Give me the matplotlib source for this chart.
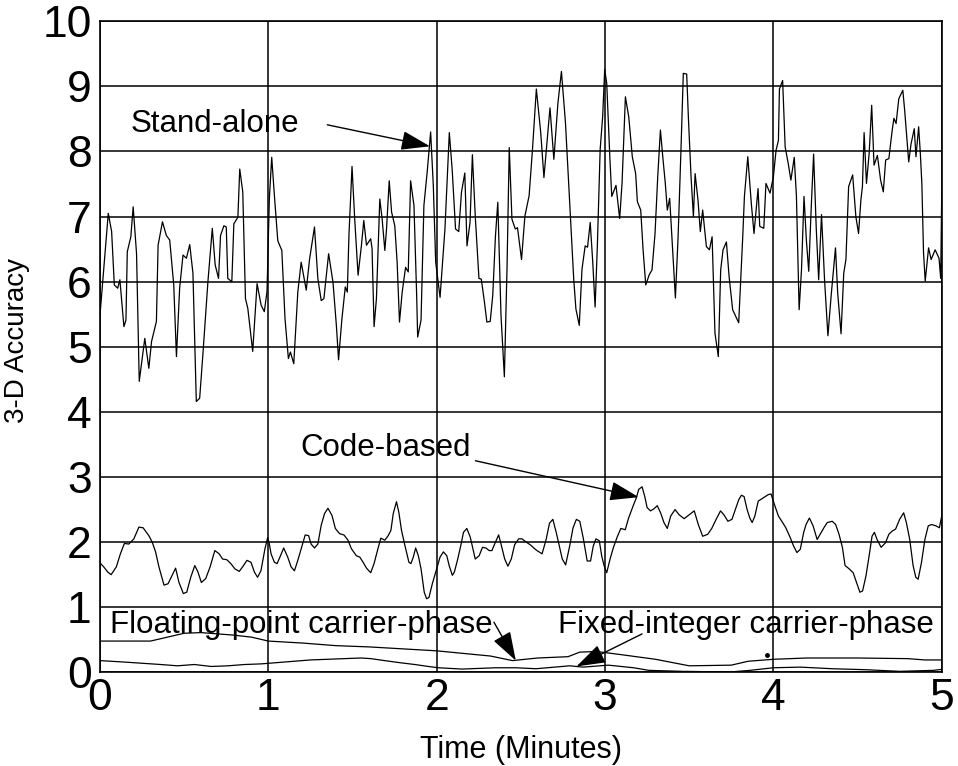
import matplotlib
matplotlib.use("Agg")
import matplotlib.pyplot as plt

plt.rcParams['font.family'] = ['Liberation Sans', 'DejaVu Sans']

# ---------------- data ----------------
stand_t = [0.000, 0.049, 0.069, 0.085, 0.105, 0.118, 0.142, 0.154, 0.162, 0.183, 0.197, 0.217, 0.233, 0.266,
           0.290, 0.306, 0.335, 0.345, 0.371, 0.394, 0.414, 0.438, 0.454, 0.473, 0.493, 0.513, 0.533, 0.552,
           0.572, 0.592, 0.611, 0.641, 0.667, 0.684, 0.704, 0.716, 0.736, 0.750, 0.759, 0.783, 0.795, 0.819,
           0.830, 0.848, 0.864, 0.878, 0.907, 0.933, 0.957, 0.976, 0.992, 1.006, 1.020, 1.036, 1.056, 1.080,
           1.099, 1.119, 1.131, 1.151, 1.175, 1.195, 1.225, 1.245, 1.274, 1.294, 1.314, 1.330, 1.358, 1.384,
           1.404, 1.417, 1.437, 1.457, 1.469, 1.479, 1.497, 1.513, 1.533, 1.553, 1.567, 1.583, 1.608, 1.616,
           1.628, 1.642, 1.662, 1.676, 1.692, 1.702, 1.718, 1.732, 1.751, 1.765, 1.779, 1.795, 1.815, 1.831,
           1.845, 1.865, 1.881, 1.887, 1.907, 1.924, 1.944, 1.964, 1.980, 1.994, 2.006, 2.020, 2.049, 2.075,
           2.092, 2.112, 2.131, 2.147, 2.167, 2.180, 2.198, 2.212, 2.229, 2.251, 2.265, 2.284, 2.298, 2.318,
           2.333, 2.349, 2.363, 2.382, 2.402, 2.418, 2.431, 2.447, 2.467, 2.480, 2.504, 2.524, 2.549, 2.569,
           2.592, 2.618, 2.637, 2.673, 2.696, 2.720, 2.741, 2.765, 2.794, 2.814, 2.827, 2.847, 2.863, 2.882,
           2.896, 2.912, 2.927, 2.941, 2.955, 2.971, 2.986, 2.998, 3.010, 3.029, 3.040, 3.065, 3.087, 3.101,
           3.121, 3.141, 3.162, 3.182, 3.192, 3.212, 3.226, 3.242, 3.263, 3.279, 3.297, 3.313, 3.329, 3.343,
           3.358, 3.370, 3.384, 3.404, 3.418, 3.434, 3.451, 3.465, 3.485, 3.495, 3.511, 3.525, 3.535, 3.552,
           3.566, 3.580, 3.602, 3.620, 3.636, 3.653, 3.673, 3.687, 3.701, 3.721, 3.737, 3.758, 3.794, 3.818,
           3.828, 3.848, 3.869, 3.885, 3.909, 3.919, 3.943, 3.956, 3.980, 4.000, 4.016, 4.030, 4.036, 4.055,
           4.070, 4.088, 4.104, 4.124, 4.137, 4.153, 4.167, 4.182, 4.196, 4.210, 4.225, 4.239, 4.255, 4.269,
           4.286, 4.304, 4.324, 4.343, 4.369, 4.382, 4.402, 4.418, 4.431, 4.447, 4.471, 4.490, 4.506, 4.520,
           4.529, 4.539, 4.553, 4.569, 4.584, 4.598, 4.618, 4.637, 4.653, 4.667, 4.686, 4.706, 4.716, 4.729,
           4.745, 4.769, 4.780, 4.804, 4.818, 4.837, 4.847, 4.863, 4.873, 4.882, 4.892, 4.902, 4.922, 4.937,
           4.961, 4.984, 4.994, 5.000]
stand_v = [5.49, 7.05, 6.77, 5.95, 5.90, 6.03, 5.31, 5.41, 6.46, 6.69, 7.15, 6.43, 4.47, 5.13,
           4.67, 5.08, 5.39, 6.56, 6.92, 6.71, 6.64, 5.95, 4.85, 5.90, 6.41, 6.36, 6.57, 6.13,
           4.16, 4.21, 4.88, 6.00, 6.82, 6.26, 6.05, 6.71, 6.86, 6.84, 6.05, 6.00, 6.89, 6.99,
           7.73, 7.38, 5.74, 5.59, 4.93, 5.97, 5.64, 5.54, 5.85, 7.28, 7.91, 7.32, 6.63, 6.48,
           5.43, 4.82, 4.92, 4.74, 5.84, 6.30, 5.87, 6.35, 6.84, 6.05, 5.71, 5.74, 6.43, 5.99,
           5.33, 4.80, 5.43, 5.92, 5.84, 6.73, 7.77, 6.96, 6.10, 6.56, 6.94, 6.56, 6.66, 6.51,
           5.31, 5.74, 7.27, 6.96, 6.48, 6.81, 7.55, 7.07, 6.86, 6.30, 5.38, 5.84, 6.22, 6.15,
           7.55, 7.17, 5.79, 5.15, 5.41, 7.17, 7.70, 8.30, 7.47, 6.30, 6.05, 5.76, 6.81, 8.29,
           7.72, 6.81, 6.77, 7.37, 7.67, 6.55, 6.91, 7.95, 7.01, 6.05, 6.04, 5.68, 5.38, 5.39,
           5.79, 6.70, 7.22, 5.48, 4.54, 6.24, 8.06, 6.96, 6.81, 6.83, 6.34, 7.01, 7.32, 8.03,
           8.96, 8.29, 7.60, 8.67, 7.88, 8.74, 9.23, 8.44, 7.01, 6.04, 5.58, 5.33, 6.19, 6.55,
           6.53, 6.91, 6.30, 5.61, 6.60, 8.03, 8.54, 9.26, 9.05, 7.88, 7.31, 7.48, 6.97, 7.51,
           8.84, 8.53, 7.92, 7.66, 7.23, 7.10, 6.49, 5.95, 6.11, 6.18, 6.74, 7.61, 8.33, 7.92,
           7.51, 7.10, 7.28, 6.39, 5.75, 6.69, 8.02, 9.20, 9.19, 8.53, 7.61, 7.00, 7.66, 7.26,
           6.77, 7.10, 6.54, 6.49, 6.69, 5.21, 4.85, 6.18, 6.49, 6.61, 6.08, 5.57, 5.37, 6.69,
           7.31, 7.92, 7.20, 6.74, 7.43, 6.85, 6.82, 7.51, 7.36, 7.61, 8.02, 8.17, 8.96, 9.09,
           8.07, 7.82, 7.56, 7.91, 7.31, 5.57, 6.18, 7.31, 6.64, 6.16, 7.15, 7.96, 6.80, 6.03,
           7.03, 6.03, 5.17, 5.78, 6.52, 5.83, 5.20, 6.13, 6.34, 7.46, 7.64, 7.00, 6.74, 7.26,
           7.46, 8.29, 7.51, 7.97, 8.71, 7.79, 7.94, 7.56, 7.38, 7.87, 7.89, 8.33, 8.51, 8.43,
           8.81, 8.94, 8.63, 7.84, 8.12, 8.35, 7.92, 8.38, 7.97, 7.51, 6.44, 6.01, 6.52, 6.34,
           6.49, 6.36, 6.05, 7.35]

code_t = [0.000, 0.022, 0.046, 0.066, 0.097, 0.121, 0.145, 0.171, 0.201, 0.231, 0.256, 0.290, 0.310, 0.330,
          0.350, 0.380, 0.404, 0.423, 0.449, 0.469, 0.495, 0.515, 0.539, 0.563, 0.582, 0.602, 0.628, 0.654,
          0.682, 0.708, 0.728, 0.753, 0.777, 0.801, 0.827, 0.847, 0.873, 0.897, 0.917, 0.936, 0.956, 0.980,
          0.996, 1.006, 1.016, 1.036, 1.052, 1.072, 1.091, 1.115, 1.135, 1.155, 1.175, 1.195, 1.219, 1.239,
          1.254, 1.274, 1.294, 1.314, 1.334, 1.354, 1.378, 1.398, 1.423, 1.449, 1.473, 1.493, 1.523, 1.543,
          1.563, 1.583, 1.608, 1.628, 1.648, 1.668, 1.692, 1.712, 1.728, 1.742, 1.761, 1.775, 1.791, 1.811,
          1.835, 1.847, 1.861, 1.875, 1.891, 1.907, 1.926, 1.940, 1.954, 1.974, 2.000, 2.020, 2.040, 2.060,
          2.074, 2.093, 2.105, 2.125, 2.145, 2.159, 2.179, 2.199, 2.229, 2.252, 2.272, 2.292, 2.312, 2.328,
          2.344, 2.368, 2.384, 2.404, 2.423, 2.443, 2.463, 2.487, 2.507, 2.527, 2.560, 2.590, 2.626, 2.650,
          2.670, 2.690, 2.710, 2.730, 2.746, 2.766, 2.790, 2.810, 2.830, 2.850, 2.870, 2.894, 2.914, 2.930,
          2.946, 2.966, 2.980, 2.994, 3.010, 3.030, 3.050, 3.074, 3.094, 3.120, 3.140, 3.166, 3.186, 3.200,
          3.220, 3.236, 3.250, 3.270, 3.290, 3.310, 3.330, 3.350, 3.370, 3.390, 3.416, 3.440, 3.470, 3.500,
          3.530, 3.554, 3.580, 3.610, 3.634, 3.660, 3.686, 3.706, 3.730, 3.754, 3.774, 3.794, 3.810, 3.826,
          3.844, 3.860, 3.874, 3.890, 3.910, 3.940, 3.970, 3.986, 4.006, 4.030, 4.050, 4.074, 4.100, 4.120,
          4.140, 4.160, 4.180, 4.194, 4.214, 4.236, 4.260, 4.280, 4.300, 4.320, 4.350, 4.370, 4.390, 4.410,
          4.426, 4.450, 4.474, 4.494, 4.514, 4.530, 4.550, 4.570, 4.586, 4.600, 4.616, 4.640, 4.666, 4.686,
          4.706, 4.726, 4.750, 4.774, 4.790, 4.810, 4.830, 4.846, 4.860, 4.880, 4.900, 4.920, 4.940, 4.966,
          4.986, 5.000]
code_v = [1.68, 1.62, 1.54, 1.50, 1.62, 1.82, 1.98, 1.97, 2.05, 2.23, 2.22, 2.10, 2.00, 1.85,
          1.62, 1.34, 1.36, 1.46, 1.60, 1.38, 1.21, 1.23, 1.46, 1.64, 1.54, 1.38, 1.44, 1.62,
          1.87, 1.82, 1.74, 1.73, 1.67, 1.59, 1.55, 1.62, 1.72, 1.69, 1.54, 1.46, 1.56, 1.90,
          2.07, 1.97, 1.82, 1.69, 1.67, 1.79, 1.91, 1.77, 1.62, 1.56, 1.72, 1.90, 2.11, 2.10,
          1.97, 1.91, 1.97, 2.26, 2.44, 2.52, 2.41, 2.21, 2.13, 2.11, 2.03, 1.90, 1.79, 1.77,
          1.69, 1.60, 1.53, 1.67, 1.87, 2.06, 2.03, 2.10, 2.18, 2.44, 2.62, 2.46, 2.18, 1.95,
          1.69, 1.67, 1.77, 1.91, 1.79, 1.59, 1.23, 1.13, 1.15, 1.36, 1.59, 1.77, 1.85, 1.79,
          1.64, 1.49, 1.54, 1.74, 1.97, 2.15, 2.21, 2.08, 1.74, 1.79, 1.92, 1.91, 1.87, 1.87,
          1.97, 2.11, 1.95, 1.74, 1.63, 1.74, 1.96, 2.05, 2.05, 2.01, 1.95, 1.88, 1.82, 2.04,
          2.29, 2.35, 2.15, 1.92, 1.74, 1.65, 1.94, 2.22, 2.35, 2.32, 2.07, 1.71, 1.71, 1.94,
          2.05, 2.02, 1.79, 1.64, 1.53, 1.74, 1.92, 2.09, 2.21, 2.19, 2.37, 2.55, 2.68, 2.81,
          2.85, 2.70, 2.53, 2.48, 2.51, 2.56, 2.45, 2.30, 2.21, 2.40, 2.50, 2.42, 2.36, 2.42,
          2.48, 2.27, 2.09, 2.12, 2.21, 2.35, 2.48, 2.42, 2.32, 2.35, 2.50, 2.65, 2.72, 2.70,
          2.50, 2.37, 2.30, 2.40, 2.63, 2.68, 2.73, 2.74, 2.58, 2.40, 2.32, 2.22, 2.07, 1.94,
          1.84, 1.89, 2.15, 2.27, 2.37, 2.25, 2.04, 2.13, 2.22, 2.30, 2.32, 2.27, 2.12, 1.92,
          1.64, 1.59, 1.53, 1.38, 1.23, 1.25, 1.48, 1.81, 2.09, 2.15, 2.04, 1.92, 1.99, 2.12,
          2.17, 2.20, 2.35, 2.45, 2.30, 2.04, 1.64, 1.46, 1.43, 1.69, 2.04, 2.25, 2.27, 2.25,
          2.22, 2.40]

float_t = [0.00, 0.30, 0.40, 0.50, 0.60, 0.70, 0.80, 0.90, 1.00, 1.20, 1.40, 1.60, 1.80, 2.00,
           2.20, 2.32, 2.45, 2.60, 2.78, 2.85, 2.95, 3.10, 3.30, 3.50, 3.75, 3.85, 4.00, 4.20,
           4.50, 4.80, 4.90, 5.00]
float_v = [0.48, 0.48, 0.54, 0.60, 0.61, 0.59, 0.57, 0.54, 0.48, 0.45, 0.41, 0.39, 0.36, 0.33,
           0.28, 0.25, 0.18, 0.22, 0.24, 0.31, 0.32, 0.27, 0.20, 0.10, 0.11, 0.17, 0.20, 0.22,
           0.22, 0.21, 0.19, 0.19]

fixed_t = [0.00, 0.16, 0.36, 0.46, 0.56, 0.66, 0.76, 0.86, 0.96, 1.08, 1.25, 1.45, 1.55, 1.61,
           1.69, 1.79, 1.87, 1.95, 2.01, 2.15, 2.35, 2.47, 2.59, 2.79, 2.87, 3.02, 3.17, 3.26,
           3.46, 3.74, 3.86, 4.00, 4.16, 4.35, 4.55, 4.75, 4.95, 5.00]
fixed_v = [0.18, 0.155, 0.12, 0.10, 0.12, 0.09, 0.10, 0.12, 0.13, 0.155, 0.19, 0.21, 0.22, 0.21,
           0.18, 0.145, 0.12, 0.09, 0.07, 0.05, 0.07, 0.07, 0.055, 0.10, 0.08, 0.11, 0.07, 0.03,
           0.015, 0.005, 0.03, 0.07, 0.08, 0.055, 0.04, 0.015, 0.03, 0.045]

x_ticks = [0, 1, 2, 3, 4, 5]
y_ticks = [0, 1, 2, 3, 4, 5, 6, 7, 8, 9, 10]

# ---------------- figure ----------------
fig = plt.figure(figsize=(9.58, 7.66), dpi=100)
ax = fig.add_axes([0.1044, 0.1223, 0.8786, 0.8499])

lw = 0.9
ax.plot(stand_t, stand_v, color='black', lw=lw)
ax.plot(code_t, code_v, color='black', lw=lw)
ax.plot(float_t, float_v, color='black', lw=lw)
ax.plot(fixed_t, fixed_v, color='black', lw=lw)
ax.plot([3.96], [0.26], 'o', color='black', ms=2.5)

ax.set_xlim(0, 5)
ax.set_ylim(0, 10)
ax.set_xticks(x_ticks)
ax.set_yticks(y_ticks)
ax.set_xticklabels([str(v) for v in x_ticks])
ax.set_yticklabels([str(v) for v in y_ticks])
ax.grid(True, color='black', lw=1.1)
ax.set_axisbelow(True)
ax.tick_params(length=0, labelsize=32)
ax.tick_params(axis='y', pad=6)
ax.tick_params(axis='x', pad=4)
for s in ax.spines.values():
    s.set_linewidth(1.2)
    s.set_color('black')

ax.set_xlabel('Time (Minutes)', fontsize=22)
ax.set_ylabel('3-D Accuracy', fontsize=20)
ax.xaxis.set_label_coords(0.5, -0.097)
ax.yaxis.set_label_coords(-0.083, 0.51)

afs = 22.5
aprops = dict(arrowstyle='-|>,head_length=0.9,head_width=0.3', color='black', lw=1,
              mutation_scale=20, shrinkA=0, shrinkB=0)

ax.text(0.18, 8.43, 'Stand-alone', fontsize=afs, va='center', ha='left')
ax.annotate('', xy=(1.96, 8.08), xytext=(1.35, 8.41), arrowprops=aprops)

ax.text(1.19, 3.45, 'Code-based', fontsize=afs, va='center', ha='left')
ax.annotate('', xy=(3.20, 2.69), xytext=(2.23, 3.25), arrowprops=aprops)

ax.text(0.06, 0.72, 'Floating-point carrier-phase', fontsize=afs, va='center', ha='left')
ax.annotate('', xy=(2.47, 0.18), xytext=(2.34, 0.77), arrowprops=aprops)

ax.text(2.72, 0.72, 'Fixed-integer carrier-phase', fontsize=afs, va='center', ha='left')
ax.annotate('', xy=(2.83, 0.09), xytext=(3.22, 0.59), arrowprops=aprops)

fig.savefig('out.png', dpi=100)
